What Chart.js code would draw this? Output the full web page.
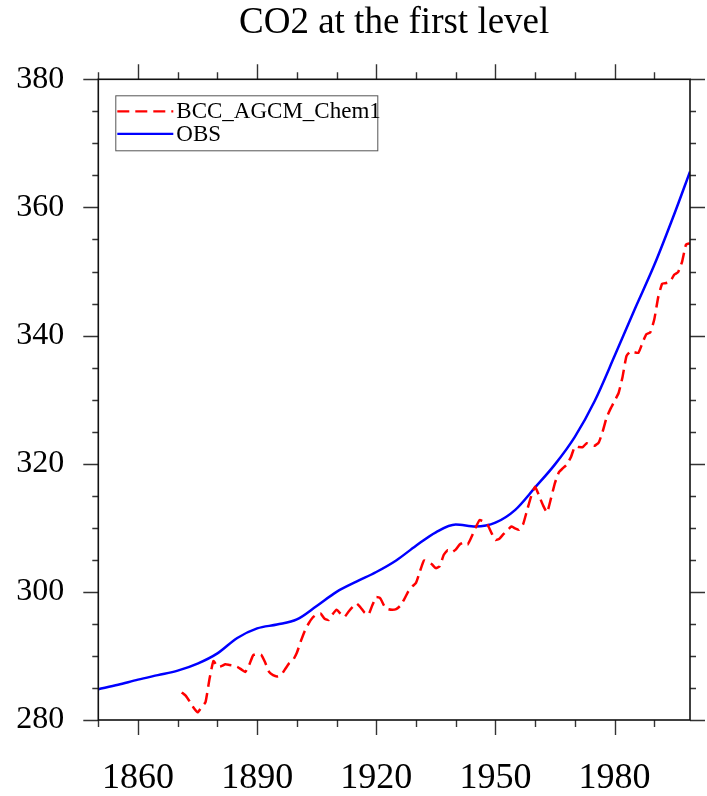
<!DOCTYPE html>
<html>
<head>
<meta charset="utf-8">
<title>CO2 at the first level</title>
<script src="https://cdn.jsdelivr.net/npm/chart.js@4.4.1/dist/chart.umd.min.js"></script>
<style>
  html, body { margin: 0; padding: 0; background: #fff; }
</style>
</head>
<body>
<canvas id="ch" width="707" height="796"></canvas>
<script>
/* ── CO2 (ppm) at the first model level: model run vs observations ── */

const SERIF = '"Liberation Serif", "Times New Roman", serif';

// observed CO2, smooth curve
const OBS_YEARS = [1850, 1855, 1860, 1865, 1870, 1875, 1880, 1885, 1890, 1895,
                   1900, 1905, 1910, 1915, 1920, 1925, 1930, 1935, 1940, 1945,
                   1950, 1955, 1960, 1965, 1970, 1975, 1980, 1985, 1990, 1995, 1999];
const OBS_CO2   = [284.8, 285.5, 286.3, 287.0, 287.7, 288.8, 290.4, 292.8, 294.3, 294.9,
                   295.7, 297.8, 300.0, 301.6, 303.1, 304.9, 307.2, 309.3, 310.5, 310.2,
                   310.8, 312.8, 316.3, 319.9, 324.2, 329.8, 336.8, 344.0, 351.0, 358.9, 365.6];

// BCC_AGCM_Chem1, annual values 1871..1999
const MODEL_FIRST_YEAR = 1871;
const MODEL_CO2 = [
  284.3, 283.8, 282.9, 281.9, 281.2, 282.0, 282.8, 286.4, 289.2, 288.3,   // 1871-1880
  288.4, 288.7, 288.6, 288.5, 288.3, 287.9, 287.5, 288.6, 290.1, 290.3,   // 1881-1890
  290.2, 289.0, 287.5, 287.0, 286.8, 287.0, 287.9, 288.8, 289.3, 290.5,   // 1891-1900
  292.3, 293.9, 295.1, 296.0, 296.5, 296.6, 295.8, 295.6, 296.5, 297.2,   // 1901-1910
  296.6, 296.1, 296.9, 297.6, 298.2, 297.6, 296.8, 296.4, 297.9, 299.2,   // 1911-1920
  299.0, 297.8, 297.3, 297.2, 297.3, 297.8, 298.8, 300.0, 300.8, 301.4,   // 1921-1930
  303.2, 304.9, 304.6, 304.3, 303.7, 304.0, 305.8, 306.5, 306.2, 306.6,   // 1931-1940
  307.4, 307.7, 307.4, 308.6, 310.0, 311.2, 311.0, 310.5, 309.2, 308.1,   // 1941-1950
  308.3, 309.0, 309.6, 310.2, 309.9, 309.7, 310.6, 312.8, 314.9, 316.4,   // 1951-1960
  315.0, 313.5, 312.4, 314.6, 317.0, 318.7, 319.3, 319.9, 321.0, 322.7,   // 1961-1970
  322.6, 322.6, 323.2, 322.9, 322.8, 323.3, 325.0, 327.2, 328.6, 329.8,   // 1971-1980
  331.0, 333.5, 336.8, 337.5, 337.4, 337.3, 338.8, 340.2, 340.5, 342.5,   // 1981-1990
  346.0, 348.1, 348.2, 348.4, 349.5, 349.9, 351.5, 354.2, 354.4           // 1991-1999
];

const X_MIN = 1850, X_MAX = 1999;
const Y_MIN = 280,  Y_MAX = 380;
const X_LABELS = [1860, 1890, 1920, 1950, 1980];
const Y_LABELS = [280, 300, 320, 340, 360, 380];

const obsPoints   = OBS_YEARS.map((yr, i) => ({ x: yr, y: OBS_CO2[i] }));
const modelPoints = MODEL_CO2.map((v, i) => ({ x: MODEL_FIRST_YEAR + i, y: v }));

/* ── frame + outward tick marks on all four sides (major / minor) ── */
const frameTicks = {
  id: 'frameTicks',
  afterDatasetsDraw(chart) {
    const { ctx, chartArea: a, scales: { x, y } } = chart;
    ctx.save();
    ctx.strokeStyle = '#333';
    ctx.lineWidth = 1.4;
    ctx.beginPath();
    for (let v = X_MIN; v <= X_MAX; v += 10) {
      const px = Math.round(x.getPixelForValue(v)) + 0.5;
      const len = X_LABELS.includes(v) ? 15 : 7;
      ctx.moveTo(px, a.bottom); ctx.lineTo(px, a.bottom + len);
      ctx.moveTo(px, a.top);    ctx.lineTo(px, a.top - len);
    }
    for (let v = Y_MIN; v <= Y_MAX; v += 5) {
      const py = Math.round(y.getPixelForValue(v)) + 0.5;
      const len = Y_LABELS.includes(v) ? 15 : 6;
      ctx.moveTo(a.left - len, py);  ctx.lineTo(a.left, py);
      ctx.moveTo(a.right, py);       ctx.lineTo(a.right + len, py);
    }
    ctx.stroke();
    ctx.strokeStyle = '#111';
    ctx.lineWidth = 1.6;
    ctx.strokeRect(a.left, a.top, a.right - a.left, a.bottom - a.top);
    ctx.restore();
  }
};

/* ── boxed legend in the upper-left corner of the plot ── */
const boxLegend = {
  id: 'boxLegend',
  afterDraw(chart) {
    const { ctx, chartArea: a } = chart;
    const left = a.left + 17, top = a.top + 16, w = 262, h = 55;
    ctx.save();
    ctx.fillStyle = '#fff';
    ctx.fillRect(left, top, w, h);
    ctx.strokeStyle = '#555';
    ctx.lineWidth = 1;
    ctx.strokeRect(left + 0.5, top + 0.5, w, h);
    ctx.font = `23px ${SERIF}`;
    ctx.textBaseline = 'middle';
    ctx.fillStyle = '#000';
    chart.data.datasets.forEach((ds, i) => {
      const rowY = top + 16 + i * 22.5;
      ctx.strokeStyle = ds.borderColor;
      ctx.lineWidth = 2.2;
      ctx.setLineDash(ds.borderDash || []);
      ctx.beginPath();
      ctx.moveTo(left + 2, rowY);
      ctx.lineTo(left + 58, rowY);
      ctx.stroke();
      ctx.setLineDash([]);
      ctx.fillText(ds.label, left + 61, rowY + 1);
    });
    ctx.restore();
  }
};

new Chart(document.getElementById('ch'), {
  type: 'line',
  data: {
    datasets: [
      {
        label: 'BCC_AGCM_Chem1',
        data: modelPoints,
        borderColor: '#ff0000',
        borderWidth: 2.5,
        borderDash: [12, 6],
        pointRadius: 0,
        tension: 0.15,
        fill: false,
      },
      {
        label: 'OBS',
        data: obsPoints,
        borderColor: '#0000ff',
        borderWidth: 2.5,
        pointRadius: 0,
        cubicInterpolationMode: 'monotone',
        fill: false,
      }
    ]
  },
  options: {
    responsive: false,
    animation: false,
    layout: { padding: { left: 0, right: 17, top: 0, bottom: 0 } },
    plugins: {
      legend:  { display: false },
      tooltip: { enabled: false },
      title: {
        display: true,
        text: 'CO2 at the first level',
        fullSize: false,
        color: '#000',
        font: { family: SERIF, size: 37, weight: 'normal' },
        padding: { top: 1, bottom: 33.9 }
      }
    },
    scales: {
      x: {
        type: 'linear',
        min: X_MIN, max: X_MAX,
        afterBuildTicks: s => { s.ticks = X_LABELS.map(v => ({ value: v })); },
        afterFit: s => { s.height = 76; },
        grid:   { display: false, drawTicks: false },
        border: { display: false },
        ticks: {
          autoSkip: false, maxRotation: 0, padding: 37,
          color: '#000',
          font: { family: SERIF, size: 36 },
          callback: v => String(v)
        }
      },
      y: {
        min: Y_MIN, max: Y_MAX,
        afterBuildTicks: s => { s.ticks = Y_LABELS.map(v => ({ value: v })); },
        afterFit: s => { s.width = 98.3; },
        grid:   { display: false, drawTicks: false },
        border: { display: false },
        ticks: {
          padding: 34,
          color: '#000',
          font: { family: SERIF, size: 32 },
          callback: v => String(v)
        }
      }
    }
  },
  plugins: [frameTicks, boxLegend]
});
</script>
</body>
</html>
